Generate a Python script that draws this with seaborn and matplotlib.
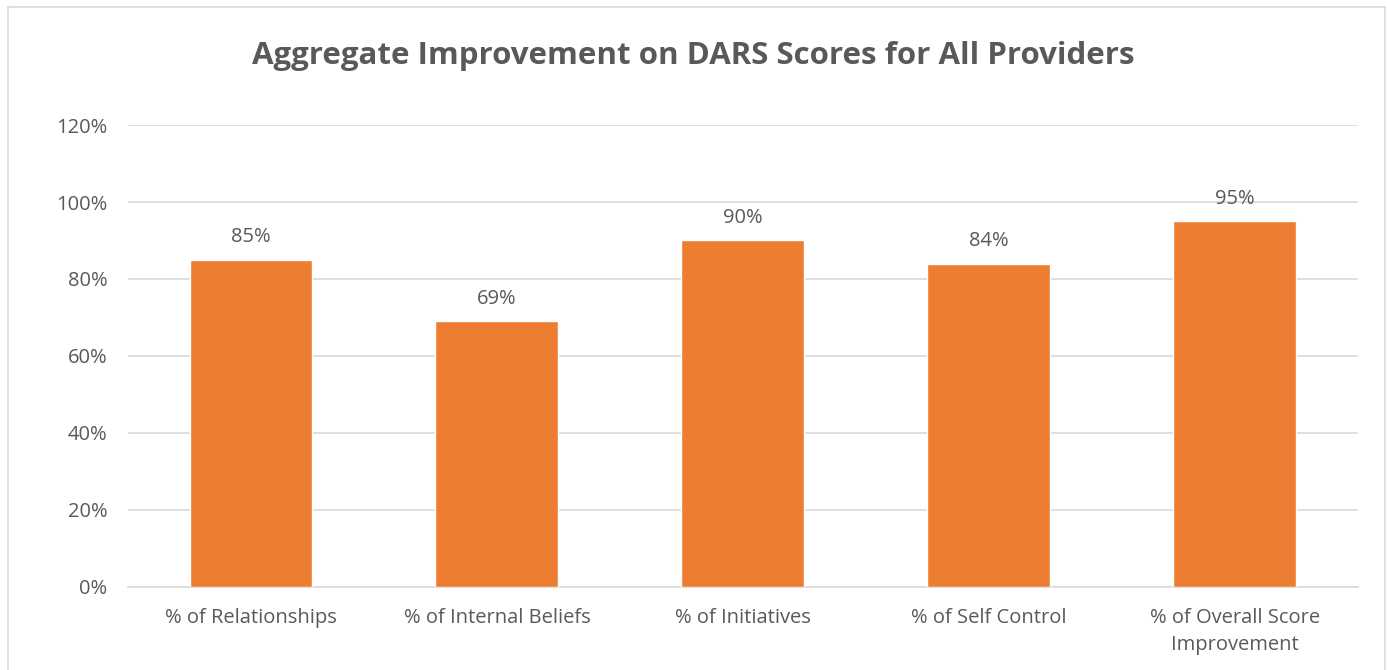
import matplotlib
matplotlib.use("Agg")
import matplotlib.pyplot as plt
import matplotlib.patches as mpatches
import seaborn as sns
import pandas as pd

categories = ["% of Relationships", "% of Internal Beliefs", "% of Initiatives",
              "% of Self Control", "% of Overall Score\nImprovement"]
values = [85, 69, 90, 84, 95]
yticks = [0, 20, 40, 60, 80, 100, 120]

df = pd.DataFrame({"category": categories, "value": values})

sns.set_style("white")
plt.rcParams['font.family'] = ['Open Sans', 'DejaVu Sans']

text_col = "#595959"
fig = plt.figure(figsize=(13.87, 6.70), dpi=100)
ax = fig.add_axes([0.0923, 0.124, 0.8867, 0.6894])

sns.barplot(data=df, x="category", y="value", color="#ED7D31", width=0.5,
            saturation=1, ax=ax, zorder=3)

for i, v in enumerate(values):
    ax.text(i, v + 3.2, f"{v}%", ha="center", va="bottom", fontsize=14.5, color=text_col)

ax.set_ylim(0, 120)
ax.set_xlim(-0.5, len(categories) - 0.5)
ax.set_yticks(yticks)
ax.set_yticklabels([f"{t}%" for t in yticks])
ax.yaxis.grid(True, color="#D9D9D9", linewidth=1.2, zorder=0)
ax.set_axisbelow(True)
for s in ["top", "right", "left"]:
    ax.spines[s].set_visible(False)
ax.spines["bottom"].set_color("#D9D9D9")
ax.spines["bottom"].set_linewidth(1.2)
ax.tick_params(axis="both", length=0, labelsize=14.5, colors=text_col)
ax.tick_params(axis="x", pad=15)
ax.tick_params(axis="y", pad=15)
for lbl in ax.get_xticklabels():
    lbl.set_linespacing(1.45)
ax.set_xlabel("")
ax.set_ylabel("")

fig.text(0.5, 0.917, "Aggregate Improvement on DARS Scores for All Providers",
         ha="center", va="center", fontsize=22.5, fontweight="bold", color=text_col)

fig.patches.append(mpatches.Rectangle((8 / 1387, -0.01), (1385 - 8) / 1387, 1.01 - 7 / 670,
                                      transform=fig.transFigure, fill=False,
                                      edgecolor="#D9D9D9", linewidth=1.2))

fig.savefig("out.png", dpi=100)
